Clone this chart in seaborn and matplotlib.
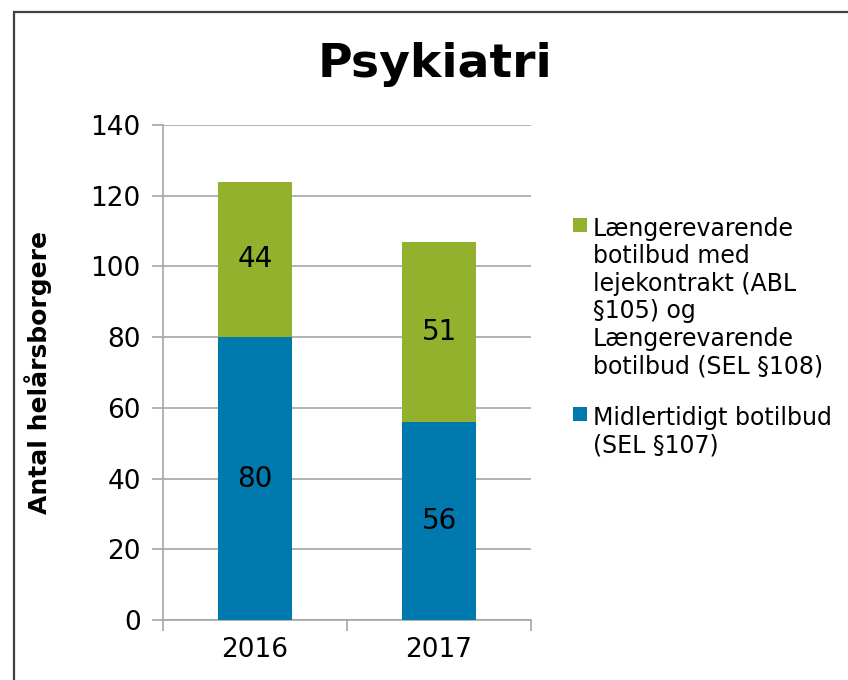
import numpy as np
import pandas as pd
import matplotlib
matplotlib.use("Agg")
import matplotlib.pyplot as plt
import seaborn as sns
from matplotlib.patches import Rectangle

# Data
years = ["2016", "2017"]
midlertidigt = [80, 56]     # Midlertidigt botilbud (SEL §107)
laengere = [44, 51]         # Længerevarende botilbud ...
y_ticks = [0, 20, 40, 60, 80, 100, 120, 140]

label_green = ("Længerevarende\nbotilbud med\nlejekontrakt (ABL\n"
               "§105) og\nLængerevarende\nbotilbud (SEL §108)")
label_blue = "Midlertidigt botilbud\n(SEL §107)"

GREEN = "#93B12C"
BLUE = "#0079AF"
GRID = "#A6A6A6"

sns.set_theme(style="white")
plt.rcParams['font.family'] = ['DejaVu Sans']
plt.rcParams.update({"text.color": "black", "axes.labelcolor": "black",
                     "xtick.color": "black", "ytick.color": "black"})

df = pd.DataFrame({"year": years, "bottom": midlertidigt, "top": laengere})
df["total"] = df["bottom"] + df["top"]

fig = plt.figure(figsize=(8.48, 6.8), dpi=100)
ax = fig.add_axes([163 / 848, 1 - 620 / 680, 368 / 848, 495 / 680])

# stacked bars: totals in green, lower part in blue on top
sns.barplot(data=df, x="year", y="total", color=GREEN, width=0.4,
            saturation=1, ax=ax, zorder=3, linewidth=0, edgecolor="none")
sns.barplot(data=df, x="year", y="bottom", color=BLUE, width=0.4,
            saturation=1, ax=ax, zorder=3, linewidth=0, edgecolor="none")

# segment labels
for i, row in df.iterrows():
    ax.text(i, row["bottom"] / 2, str(row["bottom"]), ha="center", va="center",
            fontsize=20, color="black", zorder=4)
    ax.text(i, row["bottom"] + row["top"] / 2, str(row["top"]), ha="center",
            va="center", fontsize=20, color="black", zorder=4)

ax.set_ylim(0, 140)
ax.set_xlim(-0.5, 1.5)
ax.set_yticks(y_ticks)
ax.yaxis.grid(True, color=GRID, linewidth=1.2, zorder=0)
ax.set_axisbelow(True)

ax.set_xlabel("")
ax.set_ylabel("Antal helårsborgere", fontsize=18, fontweight="bold", labelpad=28)

for side in ["top", "right"]:
    ax.spines[side].set_visible(False)
for side in ["left", "bottom"]:
    ax.spines[side].set_color(GRID)
    ax.spines[side].set_linewidth(1.2)

# tick marks on category boundaries, labels in the middle
ax.set_xticks([0, 1])
ax.set_xticks([-0.5, 0.5, 1.5], minor=True)
ax.tick_params(axis="x", which="major", length=0, labelsize=19, pad=12)
ax.tick_params(axis="x", which="minor", length=8, width=1.2, color=GRID,
               direction="out", bottom=True)
ax.tick_params(axis="y", length=8, width=1.2, color=GRID, direction="out",
               labelsize=19, pad=8, left=True)

fig.text(0.513, 0.905, "Psykiatri", ha="center", va="center",
         fontsize=34, fontweight="bold")

# legend drawn by hand so the swatch sits at the first line
legend_items = [(GREEN, label_green, 218), (BLUE, label_blue, 407)]
for color, text, y_px in legend_items:
    fig.patches.append(Rectangle((573 / 848, 1 - (y_px + 14) / 680), 14 / 848, 14 / 680,
                                 transform=fig.transFigure, facecolor=color,
                                 edgecolor="none"))
    fig.text(593 / 848, 1 - (y_px - 1) / 680, text, ha="left", va="top",
             fontsize=17, linespacing=1.18)

# outer chart frame
fig.patches.append(Rectangle((14 / 848, -0.1), 1.0, 1 - 12 / 680 + 0.1,
                             transform=fig.transFigure, fill=False,
                             edgecolor="#404040", linewidth=1.6))

fig.savefig("out.png", dpi=100)
